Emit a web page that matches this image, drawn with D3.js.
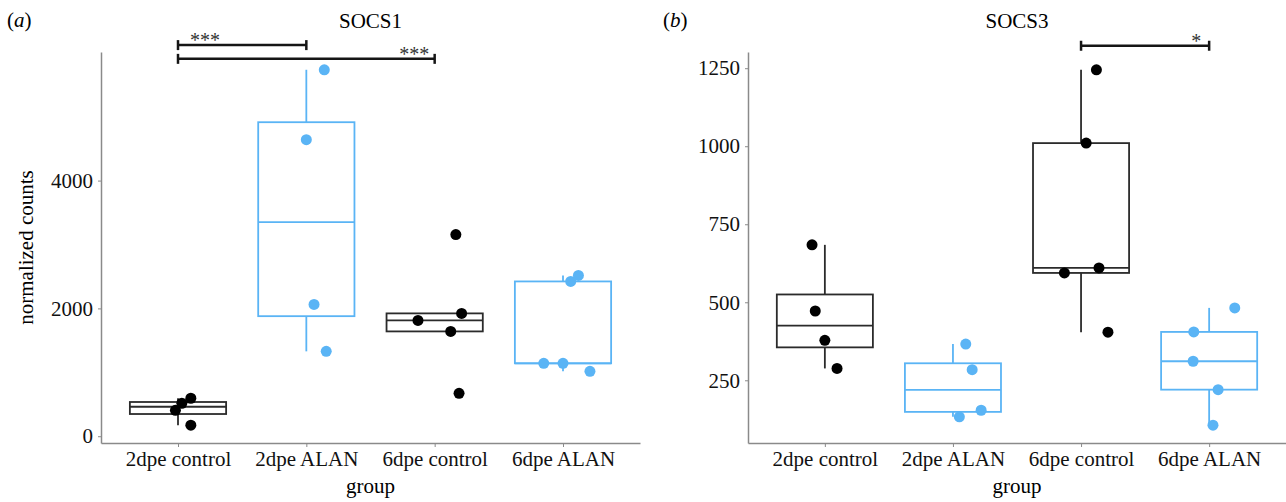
<!DOCTYPE html>
<html>
<head>
<meta charset="utf-8">
<script src="https://cdn.jsdelivr.net/npm/d3@7/dist/d3.min.js"></script>
<style>
    body { margin: 0; background: #fff; }
    svg { display: block; font-family: 'Liberation Serif', 'Times New Roman', serif; }
    .axis path, .axis line { stroke: #8a8a8a; }
    .axis text { fill: #111; font-size: 21px; font-family: 'Liberation Serif', serif; }
</style>
</head>
<body>
<svg id="chart" width="1286" height="502"></svg>
<script>
// groups on the x axis, and which treatment each one is
var groups = ['2dpe control', '2dpe ALAN', '6dpe control', '6dpe ALAN'];
var treatment = ['control', 'ALAN', 'control', 'ALAN'];

// normalized counts, one list per group
var socs1Values = [
    [594, 516, 406, 172],
    [5734, 4640, 2062, 1328],
    [3156, 1922, 1812, 1640, 672],
    [2516, 2422, 1141, 1141, 1016]
];
var socs3Values = [
    [684, 472, 378, 288],
    [366, 284, 154, 133],
    [1245, 1010, 610, 594, 404],
    [482, 405, 311, 220, 106]
];

var socs1Ticks = [0, 2000, 4000];
var socs3Ticks = [250, 500, 750, 1000, 1250];

// significance brackets
var socs1Signif = [
    { from: '2dpe control', to: '2dpe ALAN', label: '***', y: 6120 },
    { from: '2dpe control', to: '6dpe control', label: '***', y: 5905 }
];
var socs3Signif = [
    { from: '6dpe control', to: '6dpe ALAN', label: '*', y: 1322 }
];

// layout only: horizontal jitter of each dot (share of a group step)
var socs1Jitter = [
    [0.10, 0.03, -0.02, 0.10],
    [0.14, 0.00, 0.06, 0.155],
    [0.165, 0.21, -0.13, 0.125, 0.19],
    [0.12, 0.06, -0.15, 0.00, 0.21]
];
var socs3Jitter = [
    [-0.10, -0.075, 0.00, 0.095],
    [0.10, 0.15, 0.22, 0.05],
    [0.12, 0.04, 0.14, -0.13, 0.21],
    [0.20, -0.12, -0.125, 0.07, 0.03]
];
// where the stars sit along each bracket
var socs1LabelPos = [0.21, 0.92];
var socs3LabelPos = [0.90];

var colors = { control: '#000000', ALAN: '#5ab4f5' };
var boxColors = { control: '#2b2b2b', ALAN: '#5ab4f5' };

var svg = d3.select('#chart');
var plotTop = 52, plotBottom = 443;

drawPanel({
    left: 101, right: 640, tag: 'a', tagX: 7, title: 'SOCS1',
    values: socs1Values, jitter: socs1Jitter, ticks: socs1Ticks,
    signif: socs1Signif, labelPos: socs1LabelPos, yTitle: 'normalized counts'
});
drawPanel({
    left: 748, right: 1286, tag: 'b', tagX: 663, title: 'SOCS3',
    values: socs3Values, jitter: socs3Jitter, ticks: socs3Ticks,
    signif: socs3Signif, labelPos: socs3LabelPos, yTitle: null
});

function boxStats(vals) {
    var s = vals.slice().sort(d3.ascending);
    var q1 = d3.quantile(s, 0.25),
        med = d3.quantile(s, 0.5),
        q3 = d3.quantile(s, 0.75),
        iqr = q3 - q1;
    var lo = d3.min(s.filter(function(v) { return v >= q1 - 1.5 * iqr; }));
    var hi = d3.max(s.filter(function(v) { return v <= q3 + 1.5 * iqr; }));
    return { q1: q1, med: med, q3: q3, lo: lo, hi: hi };
}

function drawPanel(p) {
    var g = svg.append('g');

    var x = d3.scalePoint()
        .domain(groups)
        .range([p.left, p.right])
        .padding(0.6);
    var step = x.step();

    // ggplot style: data range plus 5% each side
    var all = d3.merge(p.values);
    var ext = d3.extent(all);
    var pad = (ext[1] - ext[0]) * 0.05;
    var y = d3.scaleLinear()
        .domain([ext[0] - pad, ext[1] + pad])
        .range([plotBottom, plotTop]);

    // axes
    g.append('g')
        .attr('class', 'axis')
        .attr('transform', 'translate(0,' + plotBottom + ')')
        .call(d3.axisBottom(x).tickSize(4).tickSizeOuter(0).tickPadding(4))
        .call(function(a) { a.select('.domain').attr('stroke-width', 1.5); });

    g.append('g')
        .attr('class', 'axis')
        .attr('transform', 'translate(' + p.left + ',0)')
        .call(d3.axisLeft(y).tickValues(p.ticks).tickFormat(d3.format('d')).tickSize(3).tickSizeOuter(0).tickPadding(5))
        .call(function(a) { a.select('.domain').attr('stroke-width', 1.5); });

    // boxes
    var boxW = step * 0.75;
    groups.forEach(function(name, i) {
        var st = boxStats(p.values[i]);
        var c = boxColors[treatment[i]];
        var cx = x(name);
        var bg = g.append('g').attr('stroke', c).attr('stroke-width', 1.8);

        if (st.hi > st.q3) {
            bg.append('line').attr('x1', cx).attr('x2', cx).attr('y1', y(st.q3)).attr('y2', y(st.hi));
        }
        if (st.lo < st.q1) {
            bg.append('line').attr('x1', cx).attr('x2', cx).attr('y1', y(st.q1)).attr('y2', y(st.lo));
        }
        bg.append('rect')
            .attr('x', cx - boxW / 2)
            .attr('y', y(st.q3))
            .attr('width', boxW)
            .attr('height', y(st.q1) - y(st.q3))
            .attr('fill', '#fff');
        bg.append('line')
            .attr('x1', cx - boxW / 2).attr('x2', cx + boxW / 2)
            .attr('y1', y(st.med)).attr('y2', y(st.med));
    });

    // jittered points
    groups.forEach(function(name, i) {
        g.append('g').selectAll('circle')
            .data(p.values[i])
            .enter().append('circle')
            .attr('cx', function(d, j) { return x(name) + p.jitter[i][j] * step; })
            .attr('cy', function(d) { return y(d); })
            .attr('r', 5.5)
            .attr('fill', colors[treatment[i]]);
    });

    // significance brackets
    p.signif.forEach(function(s, k) {
        var x1 = x(s.from), x2 = x(s.to), yy = y(s.y);
        var sg = g.append('g').attr('stroke', '#151515').attr('stroke-width', 2.5);
        sg.append('line').attr('x1', x1).attr('x2', x2).attr('y1', yy).attr('y2', yy);
        sg.append('line').attr('x1', x1).attr('x2', x1).attr('y1', yy - 5).attr('y2', yy + 5);
        sg.append('line').attr('x1', x2).attr('x2', x2).attr('y1', yy - 5).attr('y2', yy + 5);
        g.append('text')
            .attr('x', x1 + (x2 - x1) * p.labelPos[k])
            .attr('y', yy + 2)
            .attr('text-anchor', 'middle')
            .attr('font-size', 20)
            .attr('fill', '#333')
            .text(s.label);
    });

    // titles
    g.append('text')
        .attr('x', (p.left + p.right) / 2)
        .attr('y', 28)
        .attr('text-anchor', 'middle')
        .attr('font-size', 21)
        .text(p.title);

    var tag = g.append('text')
        .attr('x', p.tagX)
        .attr('y', 27)
        .attr('font-size', 21);
    tag.append('tspan').text('(');
    tag.append('tspan').attr('font-style', 'italic').text(p.tag);
    tag.append('tspan').text(')');

    g.append('text')
        .attr('x', (p.left + p.right) / 2)
        .attr('y', 493)
        .attr('text-anchor', 'middle')
        .attr('font-size', 21)
        .text('group');

    if (p.yTitle) {
        g.append('text')
            .attr('transform', 'translate(33,' + (plotTop + plotBottom) / 2 + ') rotate(-90)')
            .attr('text-anchor', 'middle')
            .attr('font-size', 21)
            .text(p.yTitle);
    }
}
</script>
</body>
</html>
